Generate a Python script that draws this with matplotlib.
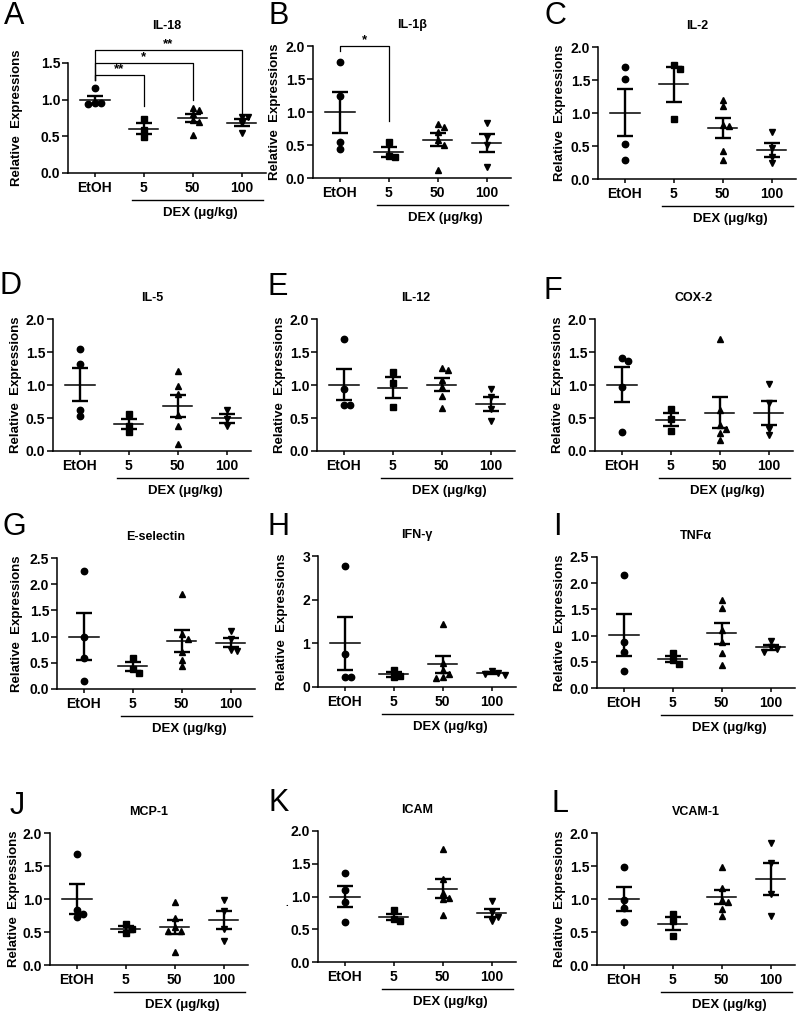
import numpy as np
import matplotlib
matplotlib.use('Agg')
import matplotlib.pyplot as plt
from matplotlib.ticker import FormatStrFormatter
from matplotlib.transforms import ScaledTranslation

plt.rcParams['font.family'] = ['Liberation Sans', 'DejaVu Sans']
plt.rcParams['font.weight'] = 'bold'
plt.rcParams['axes.labelweight'] = 'bold'

groups = ['EtOH', '5', '50', '100']
markers = ['o', 's', '^', 'v']

titles = ['IL-18', 'IL-1β', 'IL-2', 'IL-5', 'IL-12', 'COX-2',
          'E-selectin', 'IFN-γ', 'TNFα', 'MCP-1', 'ICAM', 'VCAM-1']
letters = ['A', 'B', 'C', 'D', 'E', 'F', 'G', 'H', 'I', 'J', 'K', 'L']

# relative expression per animal, groups: EtOH, DEX 5, 50, 100
il18 = [[1.16, 0.95, 0.94, 0.95], [0.74, 0.58, 0.49], [0.89, 0.86, 0.80, 0.72, 0.70, 0.52], [0.77, 0.76, 0.68, 0.54]]
il1b = [[1.76, 1.24, 0.55, 0.44], [0.54, 0.33, 0.32], [0.82, 0.78, 0.70, 0.58, 0.50, 0.12], [0.84, 0.62, 0.50, 0.17]]
il2 = [[1.70, 1.51, 0.53, 0.29], [1.73, 1.66, 0.91], [1.20, 1.10, 0.82, 0.80, 0.42, 0.29], [0.71, 0.47, 0.34, 0.24]]
il5 = [[1.54, 1.32, 0.62, 0.53], [0.56, 0.38, 0.29], [1.21, 0.99, 0.86, 0.55, 0.38, 0.10], [0.62, 0.48, 0.38]]
il12 = [[1.70, 0.94, 0.69, 0.70], [1.19, 1.03, 0.66], [1.23, 1.26, 1.08, 0.97, 0.84, 0.65], [0.94, 0.82, 0.63, 0.46]]
cox2 = [[1.41, 1.36, 0.97, 0.29], [0.64, 0.49, 0.30], [1.70, 0.62, 0.40, 0.33, 0.27, 0.16], [1.02, 0.72, 0.34, 0.24]]
esel = [[2.26, 0.99, 0.60, 0.15], [0.59, 0.39, 0.31], [1.81, 1.05, 0.96, 0.70, 0.55, 0.43], [1.10, 0.95, 0.75, 0.73]]
ifng = [[2.77, 0.76, 0.22, 0.24], [0.38, 0.26, 0.22], [1.45, 0.55, 0.38, 0.30, 0.24, 0.20], [0.36, 0.33, 0.30, 0.27]]
tnfa = [[2.15, 0.87, 0.68, 0.32], [0.66, 0.53, 0.46], [1.68, 1.52, 1.10, 0.87, 0.66, 0.44], [0.90, 0.78, 0.74, 0.68]]
mcp1 = [[1.68, 0.83, 0.78, 0.72], [0.62, 0.54, 0.48], [0.95, 0.71, 0.58, 0.51, 0.51, 0.20], [0.99, 0.82, 0.54, 0.37]]
icam = [[1.36, 1.10, 0.92, 0.61], [0.79, 0.65, 0.62], [1.73, 1.26, 1.06, 0.98, 0.96, 0.72], [0.93, 0.76, 0.68, 0.63]]
vcam = [[1.49, 0.99, 0.86, 0.65], [0.78, 0.66, 0.44], [1.48, 1.17, 0.99, 0.96, 0.85, 0.74], [1.85, 1.55, 1.07, 0.74]]
panels = [il18, il1b, il2, il5, il12, cox2, esel, ifng, tnfa, mcp1, icam, vcam]

y_max = [1.5, 2, 2, 2, 2, 2, 2.5, 3, 2.5, 2, 2, 2]
y_step = [0.5, 0.5, 0.5, 0.5, 0.5, 0.5, 0.5, 1, 0.5, 0.5, 0.5, 0.5]

# significance brackets (EtOH vs group)
sig_a_to = [1, 2, 3]
sig_a_height = [1.34, 1.50, 1.68]
sig_a_end = [0.91, 1.00, 0.77]
sig_a_stars = ['**', '*', '**']
sig_b_to = [1]
sig_b_height = [2.0]
sig_b_end = [0.86]
sig_b_stars = ['*']

W, H = 797, 1013
fig = plt.figure(figsize=(W / 100, H / 100), dpi=100)

# axes boxes in pixels: left, top, bottom
boxes = [(68, 63, 173), (313, 46, 178), (598, 47, 179),
         (53, 319, 451), (317, 319, 451), (595, 319, 451),
         (57, 558, 689), (318, 556, 687), (597, 557, 688),
         (50, 833, 965), (318, 831, 962), (597, 833, 965)]
ax_w = 198
letter_pos = [(14, 16), (279, 16), (555, 16), (11, 286), (278, 287), (553, 291),
              (14, 527), (279, 527), (557, 527), (17, 806), (279, 803), (560, 804)]
ylabel_off = [45, 32, 32, 31, 31, 31, 34, 30, 31, 30, None, 31]
xlo, xhi = -0.55, 3.5


def swarm(vals, px_x, px_y, diam=6.5):
    # simple beeswarm so overlapping dots get spread sideways
    placed = []
    xs = np.zeros(len(vals))
    for i in np.argsort(vals)[::-1]:
        yp = vals[i] * px_y
        for k in [0, 1, -1, 2, -2, 3, -3]:
            xp = k * diam
            if all((xp - a) ** 2 + (yp - b) ** 2 >= (diam * 0.9) ** 2 for a, b in placed):
                break
        placed.append((xp, yp))
        xs[i] = xp / px_x
    return xs


def shift(dy_px):
    return ScaledTranslation(0, dy_px / 100, fig.dpi_scale_trans)


def bracket(ax, to, heights, ends, stars, left_bottom):
    for j, h, e, s in zip(to, heights, ends, stars):
        ax.plot([0, 0, j, j], [left_bottom, h, h, e], color='black', lw=0.9, clip_on=False)
        ax.text(j / 2, h, s, ha='center', va='bottom', fontsize=9.5)


for n, data in enumerate(panels):
    left, top, bottom = boxes[n]
    ax = fig.add_axes([left / W, 1 - bottom / H, ax_w / W, (bottom - top) / H])
    ax.set_xlim(xlo, xhi)
    ax.set_ylim(0, y_max[n])
    px_x = ax_w / (xhi - xlo)
    px_y = (bottom - top) / y_max[n]

    for i, vals in enumerate(data):
        vals = np.array(vals)
        xs = swarm(vals, px_x, px_y)
        ax.plot(i + xs, vals, linestyle='none', marker=markers[i], color='black',
                markersize=4.6, clip_on=False, zorder=3)
        m = vals.mean()
        sem = vals.std(ddof=1) / np.sqrt(len(vals))
        ax.plot([i - 0.3, i + 0.3], [m, m], color='black', lw=1.1, zorder=4)
        ax.errorbar(i, m, yerr=sem, fmt='none', ecolor='black', elinewidth=1.7,
                    capsize=6, capthick=1.7, zorder=4)

    ax.spines[['top', 'right']].set_visible(False)
    for s in ['left', 'bottom']:
        ax.spines[s].set_linewidth(1.1)
    ax.set_xticks(range(4), groups)
    ax.set_yticks(np.arange(0, y_max[n] + 1e-9, y_step[n]))
    ax.yaxis.set_major_formatter(FormatStrFormatter('%d' if y_step[n] == 1 else '%.1f'))
    ax.tick_params(axis='y', labelsize=10, width=1.1, length=4, pad=1.5)
    ax.tick_params(axis='x', labelsize=10, width=1.1, length=3, pad=3)

    if ylabel_off[n] is not None:
        ax.set_ylabel('Relative  Expressions', fontsize=9.5, fontweight='bold')
        ax.yaxis.set_label_coords(-ylabel_off[n] / ax_w, 0.5)
    else:
        ax.text(-31 / ax_w, 0.45, '.', transform=ax.transAxes, ha='center', va='center', fontsize=7)

    # title
    title_gap = 37 if n == 0 else 21
    ax.text(0.5, 1, titles[n], transform=ax.transAxes + shift(title_gap),
            ha='center', va='center', fontsize=9)

    # DEX underline and label
    xt = ax.get_xaxis_transform()
    ax.plot([0.76, 3.43], [0, 0], transform=xt + shift(-27), color='black', lw=1.0, clip_on=False)
    ax.text(2.15, 0, 'DEX (μg/kg)', transform=xt + shift(-40), ha='center', va='center', fontsize=9.5)

    if n == 0:
        bracket(ax, sig_a_to, sig_a_height, sig_a_end, sig_a_stars, 1.27)
    if n == 1:
        bracket(ax, sig_b_to, sig_b_height, sig_b_end, sig_b_stars, 1.92)

    lx, ly = letter_pos[n]
    fig.text(lx / W, 1 - ly / H, letters[n], fontsize=22, fontweight='normal', ha='center', va='center')

fig.savefig('out.png', dpi=100, facecolor='white')
